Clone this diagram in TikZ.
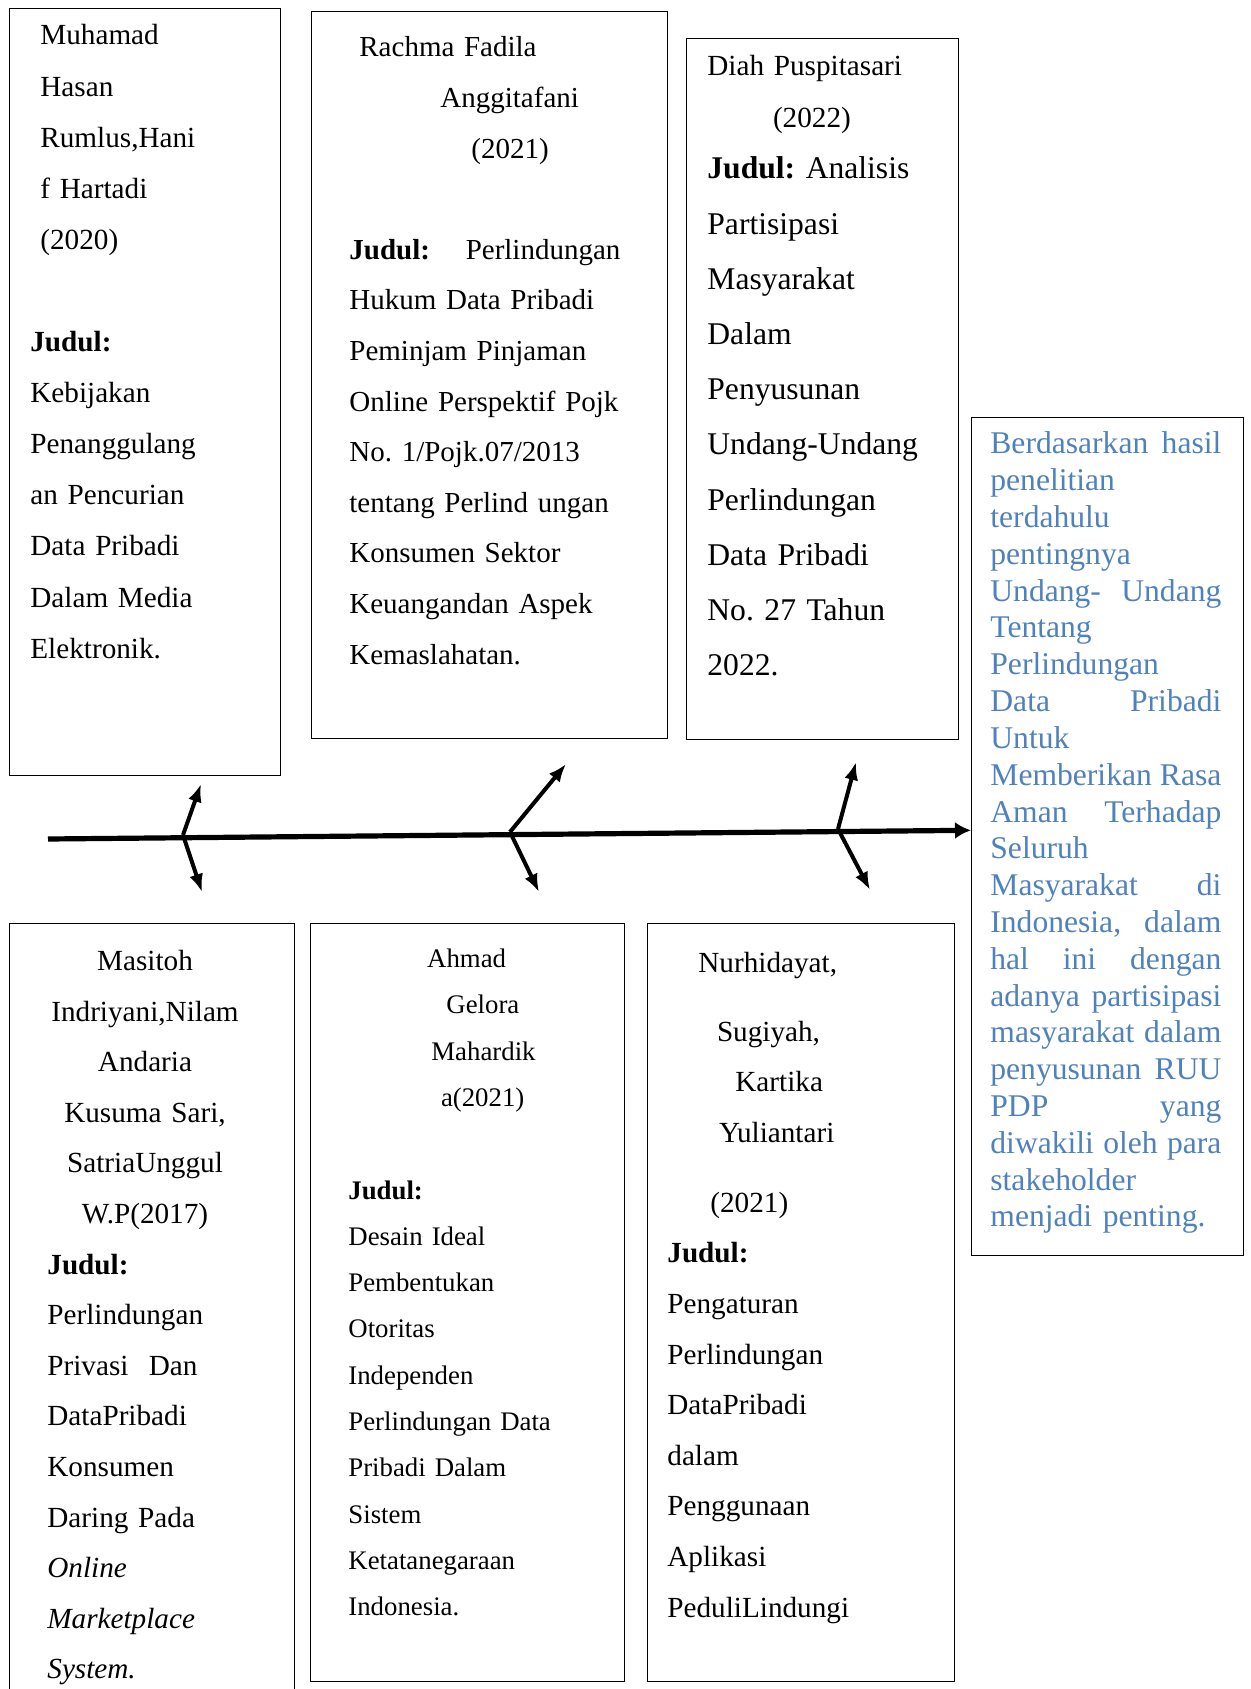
\documentclass[tikz,border=0pt]{standalone}
\usepackage{fontspec}
\setmainfont{Liberation Serif}
\usetikzlibrary{arrows.meta}
\frenchspacing

\definecolor{wordblue}{RGB}{79,129,189}
% one justified line: words are spread with \hfill
\newcommand{\jline}[2][115.5pt]{\leavevmode\hbox to #1{#2}}

\tikzset{
  box/.style={draw=black, line width=0.7pt, anchor=north west, inner sep=0pt},
  txt/.style={anchor=base west, inner sep=0pt, align=left, text width=175pt},
  spine/.style={line width=2.6pt, -{Latex[length=8pt,width=8.5pt]}},
  bone/.style={line width=2pt, -{Latex[length=9pt,width=7pt]}},
}

\begin{document}
\begin{tikzpicture}[x=0.5pt, y=-0.5pt]
  \useasboundingbox (0,0) rectangle (1250,1689);

  % top row of boxes
  \node[box, minimum width=135.5pt, minimum height=383.5pt] (b1) at (9,8) {};
  \node[box, minimum width=178pt, minimum height=363.5pt] (b2) at (311,11) {};
  \node[box, minimum width=136pt, minimum height=350.5pt] (b3) at (686,38) {};

  % bottom row of boxes (the first runs off the page)
  \node[box, minimum width=142.5pt, minimum height=400pt] (b4) at (9,923) {};
  \node[box, minimum width=157pt, minimum height=379pt] (b5) at (310,923) {};
  \node[box, minimum width=153.5pt, minimum height=379pt] (b6) at (647,923) {};

  % result box
  \node[box, minimum width=135.75pt, minimum height=419pt] (res) at (971,417) {};

  \node[txt, font=\fontsize{14.6}{25.55}\selectfont] (t1) at (30,45) {%
    \hspace*{5pt}Muhamad\\ \hspace*{5pt}Hasan\\ \hspace*{5pt}Rumlus,Hani\\
    \hspace*{5pt}f Hartadi\\ \hspace*{5pt}(2020)\\[25.55pt]
    \textbf{Judul:}\\ Kebijakan\\ Penanggulang\\ an Pencurian\\
    Data Pribadi\\ Dalam Media\\ Elektronik.};

  \node[txt, font=\fontsize{14.5}{25.3}\selectfont] (t2) at (349,57) {%
    \hspace*{5pt}Rachma Fadila\\ \hspace*{45.5pt}Anggitafani\\ \hspace*{61pt}(2021)\\[25.3pt]
    \jline[135.5pt]{\textbf{Judul:}\hfill Perlindungan}\\ Hukum Data Pribadi\\
    Peminjam Pinjaman\\ Online Perspektif Pojk\\ No. 1/Pojk.07/2013\\
    tentang Perlind ungan\\ Konsumen Sektor\\ Keuangandan Aspek\\ Kemaslahatan.};

  \node[txt, font=\fontsize{14.6}{26}\selectfont] (t3a) at (707,76) {%
    Diah Puspitasari\\ \hspace*{32.8pt}(2022)};
  \node[txt, font=\fontsize{15.8}{27.6}\selectfont] (t3b) at (707,179) {%
    \textbf{Judul:} Analisis\\ Partisipasi\\ Masyarakat\\ Dalam\\ Penyusunan\\
    Undang-Undang\\ Perlindungan\\ Data Pribadi\\ No. 27 Tahun\\ 2022.};

  \node[txt, anchor=base, align=center, text width=140pt, font=\fontsize{14.6}{25.3}\selectfont] (t4a) at (145,970.5) {%
    Masitoh\\ Indriyani,Nilam\\ Andaria\\ Kusuma Sari,\\ SatriaUnggul\\ W.P(2017)};
  \node[txt, font=\fontsize{14.6}{25.3}\selectfont] (t4b) at (47,1274) {%
    \textbf{Judul:}\\ Perlindungan\\ \jline[75pt]{Privasi\hfill Dan}\\ DataPribadi\\
    Konsumen\\ Daring Pada\\ \textit{Online}\\ \textit{Marketplace}\\ \textit{System.}};

  \node[txt, font=\fontsize{13.4}{23.15}\selectfont] (t5) at (348,967.5) {%
    \hspace*{39.4pt}Ahmad\\ \hspace*{49pt}Gelora\\ \hspace*{41.5pt}Mahardik\\
    \hspace*{46.3pt}a(2021)\\[23.15pt]
    \textbf{Judul:}\\ Desain Ideal\\ Pembentukan\\ Otoritas\\ Independen\\
    Perlindungan Data\\ Pribadi Dalam\\ Sistem\\ Ketatanegaraan\\ Indonesia.};

  \node[txt, font=\fontsize{14.6}{25.3}\selectfont] (t6) at (667,972) {%
    \hspace*{15.5pt}Nurhidayat,\\[9.2pt] \hspace*{24.8pt}Sugiyah,\\ \hspace*{34pt}Kartika\\
    \hspace*{25.9pt}Yuliantari\\[9.7pt] \hspace*{21.5pt}(2021)\\
    \textbf{Judul:}\\ Pengaturan\\ Perlindungan\\ DataPribadi\\ dalam\\
    Penggunaan\\ Aplikasi\\ PeduliLindungi};

  \node[txt, text width=115.5pt, text=wordblue, font=\fontsize{15.8}{18.4}\selectfont] (t7) at (990,454) {%
    \jline{Berdasarkan\hfill hasil}\\ penelitian\\ terdahulu\\ pentingnya\\
    \jline{Undang-\hfill Undang}\\ Tentang\\ Perlindungan\\ \jline{Data\hfill Pribadi}\\ Untuk\\
    \jline{Memberikan\hfill Rasa}\\ \jline{Aman\hfill Terhadap}\\ Seluruh\\ \jline{Masyarakat\hfill di}\\
    \jline{Indonesia,\hfill dalam}\\ \jline{hal\hfill ini\hfill dengan}\\ \jline{adanya\hfill partisipasi}\\
    \jline{masyarakat\hfill dalam}\\ \jline{penyusunan\hfill RUU}\\ \jline{PDP\hfill yang}\\
    \jline{diwakili\hfill oleh\hfill para}\\ stakeholder\\ menjadi penting.};

  % spine of the fishbone
  \coordinate (tail) at (48,839);
  \draw[spine] (tail) -- ([yshift=3.2pt]res.west);

  \coordinate (j1) at (183,835);
  \coordinate (j2) at (510,832);
  \coordinate (j3) at (838,829);
  \coordinate (u1) at (201,784);
  \coordinate (u2) at (566,764);
  \coordinate (u3) at (856,762);
  \coordinate (d1) at (202,892);
  \coordinate (d2) at (539,892);
  \coordinate (d3) at (870,890);

  \foreach \i in {1,2,3} {
    \draw[bone] (j\i) -- (u\i);
    \draw[bone] (j\i) -- (d\i);
  }
\end{tikzpicture}
\end{document}
